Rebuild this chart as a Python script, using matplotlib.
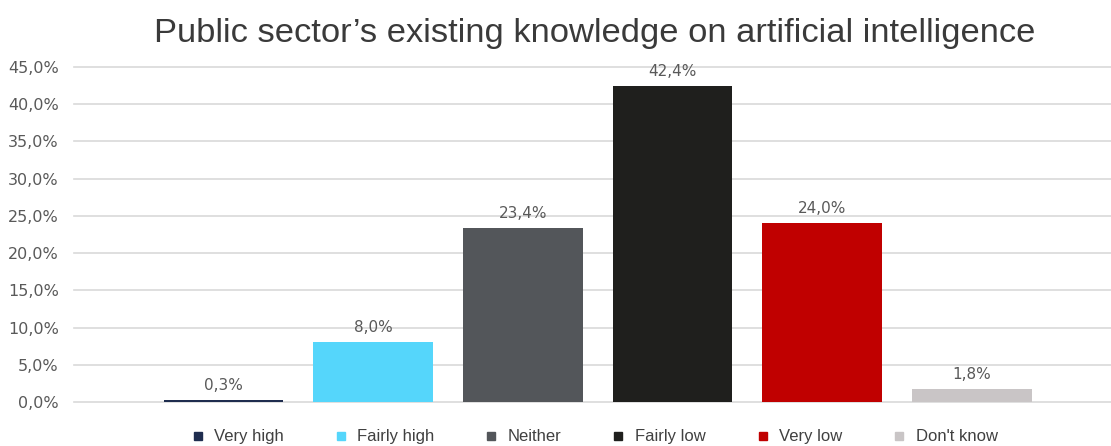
import matplotlib.pyplot as plt
from matplotlib.lines import Line2D

categories = ["Very high", "Fairly high", "Neither", "Fairly low", "Very low", "Don't know"]
shares = [0.3, 8.0, 23.4, 42.4, 24.0, 1.8]
colors = ["#1f2d4f", "#55d6fb", "#53565a", "#1f1f1d", "#c00000", "#c9c5c6"]
yticks = [0, 5, 10, 15, 20, 25, 30, 35, 40, 45]

fig = plt.figure(figsize=(11.11, 4.46), dpi=100)
ax = fig.add_axes([0.0666, 0.0987, 0.9334, 0.7511])

x = list(range(len(categories)))
ax.bar(x, shares, width=0.8, color=colors, zorder=3)

for xi, v in zip(x, shares):
    ax.annotate(f"{v:.1f}%".replace(".", ","), (xi, v), xytext=(0, 5),
                textcoords="offset points", ha="center", va="bottom",
                fontsize=11, color="#595959", family="DejaVu Sans")

ax.set_xlim(-1.0, 5.93)
ax.set_ylim(0, 45)
ax.set_yticks(yticks)
ax.set_yticklabels([f"{t:.1f}%".replace(".", ",") for t in yticks],
                   fontsize=11.5, color="#595959")
ax.tick_params(axis="y", length=0, pad=11)
ax.set_xticks([])
ax.grid(axis="y", color="#d9d9d9", linewidth=1.2, zorder=0, clip_on=False)
for s in ax.spines.values():
    s.set_visible(False)

fig.suptitle("Public sector\u2019s existing knowledge on artificial intelligence",
             x=0.535, y=0.96, fontsize=24.8, color="#3a3a3a",
             family="Liberation Sans")

handles = [Line2D([], [], marker="s", linestyle="none", markersize=6,
                  markerfacecolor=c, markeredgecolor=c) for c in colors]
fig.legend(handles, categories, loc="lower center", ncol=6,
           bbox_to_anchor=(0.535, -0.03), frameon=False, columnspacing=3.0,
           handlelength=0.8, handletextpad=0.6,
           prop={"family": "Liberation Sans", "size": 12},
           labelcolor="#404040")

fig.savefig("out.png", dpi=100)
